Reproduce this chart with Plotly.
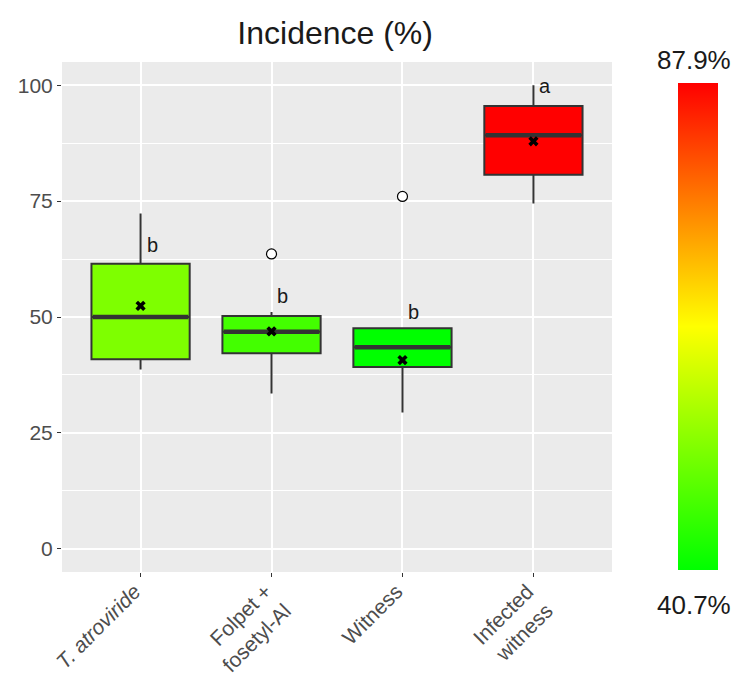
import plotly.graph_objects as go
from plotly.colors import sample_colorscale

# ---- data ----
categories = ["<i>T. atroviride</i>", "Folpet +<br>fosetyl-Al", "Witness", "Infected<br>witness"]
q1 = [40.9, 42.2, 39.2, 80.7]
median = [50.0, 46.8, 43.5, 89.2]
q3 = [61.5, 50.2, 47.6, 95.5]
lowerfence = [38.7, 33.5, 29.4, 74.5]
upperfence = [72.3, 51.1, 47.6, 100.0]
means = [52.4, 46.9, 40.7, 87.9]
outlier_x = [1, 2]
outlier_y = [63.6, 76.0]
letters = ["b", "b", "b", "a"]
letter_y = [65.5, 54.5, 51.0, 99.8]
y_ticks = [0, 25, 50, 75, 100]

cmin, cmax = 40.7, 87.9
cscale = [[0, "#00FF00"], [0.5, "#FFFF00"], [1, "#FF0000"]]

fig = go.Figure()
xs = list(range(len(categories)))
box_w = 0.75
edge = "#333333"

for i in xs:
    frac = (means[i] - cmin) / (cmax - cmin)
    frac = min(max(frac, 0), 1)
    col = sample_colorscale(cscale, [frac])[0]
    fig.add_trace(go.Box(
        x=[i], q1=[q1[i]], median=[median[i]], q3=[q3[i]],
        lowerfence=[lowerfence[i]], upperfence=[upperfence[i]],
        width=box_w, whiskerwidth=0, fillcolor=col,
        line=dict(color=edge, width=2), boxpoints=False,
        showlegend=False, hoverinfo="skip"))
    # thicker median line
    fig.add_trace(go.Scatter(
        x=[i - box_w / 2 + 0.01, i + box_w / 2 - 0.01], y=[median[i], median[i]],
        mode="lines", line=dict(color=edge, width=4.5), showlegend=False, hoverinfo="skip"))

fig.add_trace(go.Scatter(
    x=outlier_x, y=outlier_y, mode="markers",
    marker=dict(symbol="circle", size=10, color="white", line=dict(color="black", width=1.2)),
    showlegend=False, hoverinfo="skip"))

fig.add_trace(go.Scatter(
    x=xs, y=means, mode="markers",
    marker=dict(symbol="x", size=9, color="black", line=dict(width=0)),
    showlegend=False, hoverinfo="skip"))

# colorbar via invisible scatter
fig.add_trace(go.Scatter(
    x=[None], y=[None], mode="markers",
    marker=dict(color=[cmin, cmax], cmin=cmin, cmax=cmax, colorscale=cscale,
                showscale=True,
                colorbar=dict(thickness=40, lenmode="pixels", len=487,
                              x=1.12, xanchor="left", y=0.959, yanchor="top",
                              xpad=0, ypad=0, outlinewidth=0, showticklabels=False,
                              ticks="")),
    showlegend=False, hoverinfo="skip"))

for i in xs:
    fig.add_annotation(x=i + 0.03, y=letter_y[i], text=letters[i], showarrow=False,
                       xanchor="left", yanchor="middle",
                       font=dict(size=20, color="#1a1a1a"))

fig.add_annotation(x=1.149, y=1.004, xref="paper", yref="paper", text=f"{cmax}%",
                   showarrow=False, xanchor="center", yanchor="middle",
                   font=dict(size=26, color="#1a1a1a"))
fig.add_annotation(x=1.149, y=-0.065, xref="paper", yref="paper", text=f"{cmin}%",
                   showarrow=False, xanchor="center", yanchor="middle",
                   font=dict(size=26, color="#1a1a1a"))

fig.update_layout(
    width=735, height=673,
    margin=dict(l=62, r=123, t=62, b=101, autoexpand=False),
    paper_bgcolor="white", plot_bgcolor="#EBEBEB",
    font=dict(family="Liberation Sans, Arial, sans-serif"),
    title=dict(text="Incidence (%)", x=0.456, xanchor="center", y=0.951, yanchor="middle",
               font=dict(size=32, color="#1a1a1a")),
)
fig.update_xaxes(range=[-0.6, 3.6], tickvals=xs, ticktext=categories, tickangle=-45,
                 showgrid=True, gridcolor="white", gridwidth=1.5, zeroline=False,
                 ticks="outside", ticklen=4, tickcolor="#333333", automargin=False,
                 ticklabelstandoff=-6, ticklabelshift=-6,
                 tickfont=dict(size=21, color="#4D4D4D"))
fig.update_yaxes(range=[-5, 105], tickvals=y_ticks, showgrid=True, gridcolor="white",
                 gridwidth=1.5, zeroline=False, ticks="outside", ticklen=4, automargin=False,
                 tickcolor="#333333", tickfont=dict(size=21, color="#4D4D4D"),
                 minor=dict(tickvals=[12.5, 37.5, 62.5, 87.5], showgrid=True,
                            gridcolor="white", gridwidth=0.7, ticks=""))

fig.write_html("out.html", config={"displayModeBar": False},
               post_script="document.body.style.margin='0';")
